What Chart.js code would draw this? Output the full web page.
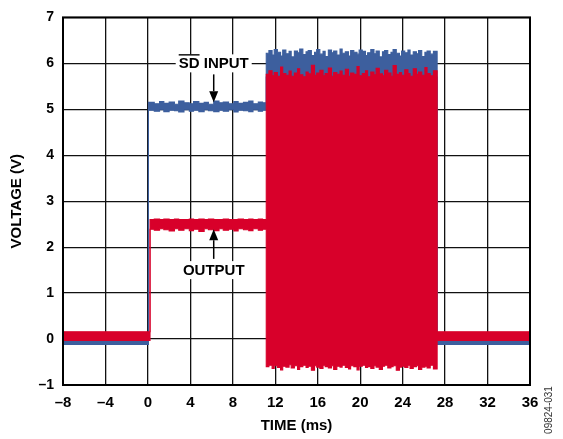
<!DOCTYPE html>
<html>
<head>
<meta charset="utf-8">
<script src="https://cdn.jsdelivr.net/npm/chart.js@4.4.1/dist/chart.umd.min.js"></script>
<style>
  html, body { margin: 0; padding: 0; background: #fff; }
  #wrap { width: 563px; height: 439px; }
</style>
</head>
<body>
<div id="wrap"><canvas id="c" width="563" height="439"></canvas></div>
<script>
// Axis ticks
const xTicks = [-8, -4, 0, 4, 8, 12, 16, 20, 24, 28, 32, 36];
const yTicks = [-1, 0, 1, 2, 3, 4, 5, 6, 7];

// Edge times (ms)
const blueRise = 0.05;
const redRise = 0.2;
const burstStart = 11.15;
const burstEnd = 27.25;

// Idle levels (V): [upper edge, lower edge] of each trace band
const blueIdle = [-0.03, -0.12];
const redIdle = [0.16, -0.03];

// Steady section after the rise (ms); value arrays start at the rise edge
const midTimes = [0.6, 1.1, 1.5, 2.0, 2.5, 2.9, 3.4, 3.9, 4.3, 4.8, 5.3, 5.7,
                  6.2, 6.7, 7.1, 7.6, 8.1, 8.5, 9.0, 9.5, 9.9, 10.4, 10.8];
const blueMidTop = [5.15, 5.12, 5.17, 5.13, 5.16, 5.11, 5.18, 5.14, 5.12, 5.17, 5.13, 5.15,
                    5.11, 5.18, 5.14, 5.16, 5.12, 5.17, 5.13, 5.15, 5.18, 5.12, 5.16, 5.14];
const blueMidBottom = [4.98, 4.96, 4.99, 4.95, 4.98, 4.97, 4.94, 4.99, 4.96, 4.98, 4.95, 4.99,
                       4.97, 4.95, 4.98, 4.96, 4.99, 4.94, 4.98, 4.97, 4.95, 4.99, 4.96, 4.98];
const redMidTop = [2.60, 2.61, 2.60, 2.61, 2.60, 2.61, 2.60, 2.60, 2.61, 2.60, 2.61, 2.60,
                   2.61, 2.60, 2.60, 2.61, 2.60, 2.60, 2.61, 2.60, 2.61, 2.60, 2.61, 2.60];
const redMidBottom = [2.39, 2.37, 2.40, 2.38, 2.35, 2.40, 2.37, 2.40, 2.36, 2.39, 2.34, 2.40,
                      2.38, 2.36, 2.40, 2.37, 2.39, 2.35, 2.40, 2.38, 2.36, 2.40, 2.37, 2.39];

// Switching burst (ms) and its envelopes (V)
const burstTimes = [11.15, 11.4, 11.7, 11.9, 12.2, 12.5, 12.7, 13.0, 13.3, 13.5,
                    13.8, 14.1, 14.3, 14.6, 14.9, 15.1, 15.4, 15.7, 15.9, 16.2,
                    16.5, 16.7, 17.0, 17.3, 17.5, 17.8, 18.1, 18.3, 18.6, 18.9,
                    19.1, 19.4, 19.7, 19.9, 20.2, 20.5, 20.7, 21.0, 21.3, 21.5,
                    21.8, 22.1, 22.3, 22.6, 22.9, 23.1, 23.4, 23.7, 23.9, 24.2,
                    24.5, 24.7, 25.0, 25.3, 25.5, 25.8, 26.1, 26.3, 26.6, 26.9];
const blueBurstTop = [6.22, 6.28, 6.18, 6.30, 6.24, 6.16, 6.29, 6.21, 6.26, 6.14,
                      6.27, 6.23, 6.31, 6.19, 6.25, 6.28, 6.17, 6.24, 6.30, 6.20,
                      6.26, 6.15, 6.29, 6.23, 6.27, 6.18, 6.31, 6.22, 6.25, 6.16,
                      6.28, 6.24, 6.20, 6.29, 6.26, 6.17, 6.23, 6.30, 6.21, 6.27,
                      6.14, 6.25, 6.28, 6.19, 6.24, 6.30, 6.22, 6.16, 6.27, 6.23,
                      6.29, 6.18, 6.25, 6.21, 6.28, 6.15, 6.24, 6.27, 6.20, 6.26];
const blueBurstLow = [5.70];
const redBurstTop = [5.76, 5.84, 5.73, 5.80, 5.72, 5.92, 5.78, 5.74, 5.83, 5.72,
                     5.79, 5.88, 5.75, 5.71, 5.81, 5.77, 5.96, 5.74, 5.79, 5.85,
                     5.73, 5.78, 5.90, 5.72, 5.80, 5.76, 5.83, 5.74, 5.87, 5.72,
                     5.79, 5.76, 5.93, 5.73, 5.78, 5.84, 5.71, 5.81, 5.75, 5.89,
                     5.77, 5.73, 5.85, 5.79, 5.72, 5.95, 5.76, 5.80, 5.74, 5.86,
                     5.78, 5.72, 5.88, 5.76, 5.81, 5.74, 5.91, 5.78, 5.73, 5.84];
const redBurstBottom = [-0.60, -0.57, -0.64, -0.58, -0.62, -0.67, -0.59, -0.61, -0.56, -0.63,
                        -0.58, -0.66, -0.60, -0.57, -0.62, -0.59, -0.68, -0.58, -0.61, -0.64,
                        -0.57, -0.60, -0.63, -0.58, -0.66, -0.59, -0.61, -0.57, -0.62, -0.65,
                        -0.58, -0.60, -0.67, -0.59, -0.57, -0.62, -0.60, -0.64, -0.58, -0.61,
                        -0.66, -0.59, -0.57, -0.63, -0.60, -0.58, -0.68, -0.61, -0.59, -0.62,
                        -0.57, -0.64, -0.60, -0.58, -0.66, -0.61, -0.59, -0.63, -0.57, -0.65];

const BLUE = '#3d5f9e';
const RED = '#d8002a';
const FONT = '"Liberation Sans", Arial, Helvetica, sans-serif';

// Build one edge of a trace band as step-held samples
function trace(idle, riseT, midVals, bTimes, bVals) {
  const pts = [{ x: xTicks[0], y: idle }, { x: riseT, y: midVals[0] }];
  midTimes.forEach((t, i) => pts.push({ x: t, y: midVals[i + 1] }));
  bTimes.forEach((t, i) => pts.push({ x: t, y: bVals[i] }));
  pts.push({ x: burstEnd, y: idle }, { x: xTicks[xTicks.length - 1], y: idle });
  return pts;
}

function edge(label, data, color, fill, order) {
  return {
    label, data, fill, order,
    borderColor: color, backgroundColor: color,
    borderWidth: 1.1, pointRadius: 0, stepped: 'before', tension: 0
  };
}

const tickFmt = v => (v < 0 ? '\u2013' + Math.abs(v) : String(v));

// Callout labels with arrows, plus the plot frame
const callouts = {
  id: 'callouts',
  afterDatasetsDraw(chart) {
    const { ctx, scales: { x, y }, chartArea: a } = chart;
    const items = [
      { text: 'SD INPUT', bar: 'SD', t: 6.2, v: 6.0, from: 5.76, tip: 5.155 },
      { text: 'OUTPUT', bar: '', t: 6.2, v: 1.5, from: 1.745, tip: 2.39 }
    ];
    ctx.save();
    ctx.font = 'bold 15px ' + FONT;
    items.forEach(it => {
      const cx = x.getPixelForValue(it.t);
      const cy = y.getPixelForValue(it.v);
      const w = ctx.measureText(it.text).width;
      ctx.fillStyle = '#fff';
      ctx.fillRect(cx - w / 2 - 3, cy - 9, w + 6, 18);
      ctx.fillStyle = '#000';
      ctx.textAlign = 'center';
      ctx.textBaseline = 'middle';
      ctx.fillText(it.text, cx, cy + 0.5);
      if (it.bar) {
        const bw = ctx.measureText(it.bar).width;
        ctx.beginPath();
        ctx.moveTo(cx - w / 2, cy - 8.5);
        ctx.lineTo(cx - w / 2 + bw, cy - 8.5);
        ctx.lineWidth = 1.4;
        ctx.strokeStyle = '#000';
        ctx.stroke();
      }
      const y0 = y.getPixelForValue(it.from);
      const y1 = y.getPixelForValue(it.tip);
      const dir = Math.sign(y1 - y0);
      const head = 11, half = 4.5;
      ctx.beginPath();
      ctx.moveTo(cx, y0);
      ctx.lineTo(cx, y1 - dir * head);
      ctx.lineWidth = 1.5;
      ctx.strokeStyle = '#000';
      ctx.stroke();
      ctx.beginPath();
      ctx.moveTo(cx, y1);
      ctx.lineTo(cx - half, y1 - dir * head);
      ctx.lineTo(cx + half, y1 - dir * head);
      ctx.closePath();
      ctx.fill();
    });
    ctx.lineWidth = 2;
    ctx.strokeStyle = '#000';
    ctx.strokeRect(a.left, a.top, a.right - a.left, a.bottom - a.top);
    ctx.restore();
  },
  afterDraw(chart) {
    const { ctx } = chart;
    ctx.save();
    ctx.translate(549, 410);
    ctx.rotate(-Math.PI / 2);
    ctx.font = '10px ' + FONT;
    ctx.fillStyle = '#333';
    ctx.textAlign = 'center';
    ctx.textBaseline = 'middle';
    ctx.fillText('09824-031', 0, 0);
    ctx.restore();
  }
};

new Chart(document.getElementById('c'), {
  type: 'line',
  data: {
    datasets: [
      edge('OUTPUT', trace(redIdle[0], redRise, redMidTop, burstTimes, redBurstTop), RED, '+1', 0),
      edge('OUTPUT lower', trace(redIdle[1], redRise, redMidBottom, burstTimes, redBurstBottom), RED, false, 0),
      edge('SD INPUT', trace(blueIdle[0], blueRise, blueMidTop, burstTimes, blueBurstTop), BLUE, '+1', 1),
      edge('SD INPUT lower', trace(blueIdle[1], blueRise, blueMidBottom, [burstStart], blueBurstLow), BLUE, false, 1)
    ]
  },
  options: {
    responsive: false,
    animation: false,
    layout: { padding: { left: 0, top: 12, right: 33, bottom: 0 } },
    plugins: { legend: { display: false }, tooltip: { enabled: false } },
    scales: {
      x: {
        type: 'linear',
        min: xTicks[0],
        max: xTicks[xTicks.length - 1],
        afterBuildTicks: s => { s.ticks = xTicks.map(v => ({ value: v })); },
        afterFit: s => { s.height = 54; },
        ticks: {
          callback: tickFmt, autoSkip: false, maxRotation: 0,
          color: '#000', padding: 9,
          font: { family: FONT, weight: 'bold', size: 15 }
        },
        grid: { color: '#111', lineWidth: 1.3, drawTicks: false },
        border: { display: false },
        title: {
          display: true, text: 'TIME (ms)', color: '#000',
          font: { family: FONT, weight: 'bold', size: 15 },
          padding: { top: 0, bottom: 4 }
        }
      },
      y: {
        type: 'linear',
        min: yTicks[0],
        max: yTicks[yTicks.length - 1],
        afterBuildTicks: s => { s.ticks = yTicks.map(v => ({ value: v })); },
        afterFit: s => { s.width = 63; },
        ticks: {
          callback: tickFmt, autoSkip: false,
          color: '#000', padding: 9,
          font: { family: FONT, weight: 'bold', size: 14 }
        },
        grid: { color: '#111', lineWidth: 1.3, drawTicks: false },
        border: { display: false },
        title: {
          display: true, text: 'VOLTAGE (V)', color: '#000',
          font: { family: FONT, weight: 'bold', size: 15 },
          padding: { top: 8, bottom: 0 }
        }
      }
    }
  },
  plugins: [callouts]
});
</script>
</body>
</html>
